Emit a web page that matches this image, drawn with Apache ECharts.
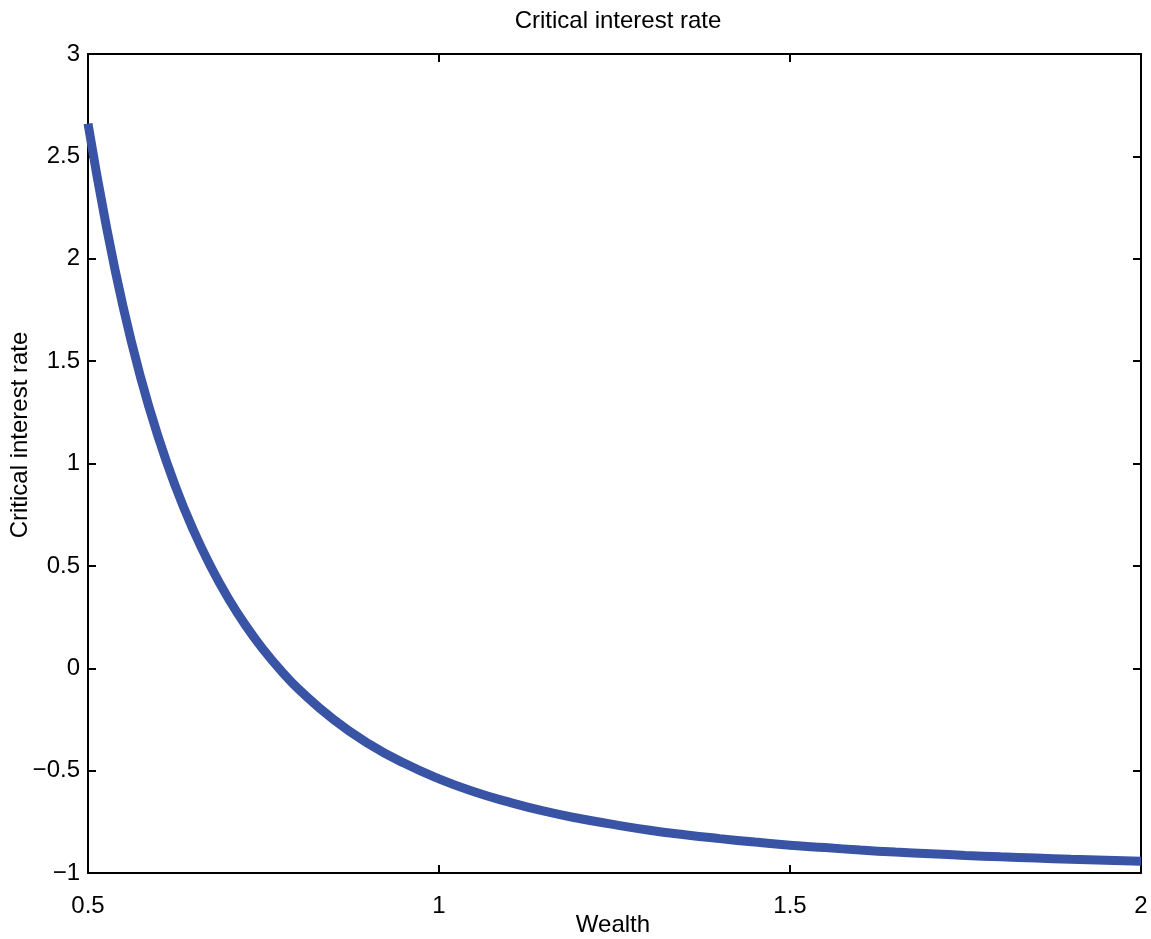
<!DOCTYPE html>
<html>
<head>
<meta charset="utf-8">
<script src="https://cdn.jsdelivr.net/npm/echarts@6/dist/echarts.min.js"></script>
<style>
html,body{margin:0;padding:0;background:#fff;}
#chart{width:1151px;height:939px;}
</style>
</head>
<body>
<div id="chart"></div>
<script>
const titleText = 'Critical interest rate';
const xName = 'Wealth';
const yName = 'Critical interest rate';
const wealth = [0.500,0.525,0.550,0.575,0.600,0.625,0.650,0.675,0.700,0.725,0.750,0.775,0.800,0.85,0.90,0.95,1.00,1.05,1.10,1.15,1.20,1.25,1.30,1.35,1.40,1.45,1.50,1.55,1.60,1.65,1.70,1.75,1.80,1.85,1.90,1.95,2.00];
const rate = [2.660,2.179,1.765,1.420,1.130,0.884,0.675,0.496,0.341,0.207,0.090,-0.012,-0.102,-0.251,-0.369,-0.463,-0.540,-0.603,-0.654,-0.698,-0.734,-0.764,-0.791,-0.813,-0.832,-0.849,-0.864,-0.876,-0.888,-0.898,-0.906,-0.914,-0.921,-0.927,-0.933,-0.938,-0.943];

const font = '"Liberation Sans", Arial, Helvetica, sans-serif';
const fmt = v => String(v).replace('-', '\u2212');
const chart = echarts.init(document.getElementById('chart'), null, {renderer:'canvas'});
const axisLine = {show:true, onZero:false, lineStyle:{color:'#000', width:2}};
const tick = {show:true, inside:true, length:8, lineStyle:{color:'#000', width:2}};
chart.setOption({
  animation:false,
  backgroundColor:'#fff',
  title:{text:titleText, left:613, top:4, textAlign:'center',
    textStyle:{fontFamily:font, fontSize:24, fontWeight:'normal', color:'#000'}},
  grid:{left:88, top:54, right:10, bottom:66, containLabel:false, outerBoundsMode:'none'},
  xAxis:[
    {type:'value', min:0.5, max:2, interval:0.5, position:'bottom',
     axisLine:axisLine, axisTick:tick, splitLine:{show:false},
     axisLabel:{fontFamily:font, fontSize:24, color:'#000', margin:21, formatter:fmt}},
    {type:'value', min:0.5, max:2, interval:0.5, position:'top',
     axisLine:axisLine, axisTick:tick, splitLine:{show:false}, axisLabel:{show:false}}
  ],
  yAxis:[
    {type:'value', min:-1, max:3, interval:0.5, position:'left',
     axisLine:axisLine, axisTick:tick, splitLine:{show:false},
     axisLabel:{fontFamily:font, fontSize:24, color:'#000', margin:8, formatter:fmt}},
    {type:'value', min:-1, max:3, interval:0.5, position:'right',
     axisLine:axisLine, axisTick:tick, splitLine:{show:false}, axisLabel:{show:false}}
  ],
  graphic:[
    {type:'text', x:20, y:435, rotation:Math.PI/2,
     style:{text:yName, font:'24px ' + font, fill:'#000', textAlign:'center', textVerticalAlign:'middle'}},
    {type:'text', x:613, y:925,
     style:{text:xName, font:'24px ' + font, fill:'#000', textAlign:'center', textVerticalAlign:'middle'}}
  ],
  series:[{type:'line', xAxisIndex:0, yAxisIndex:0, smooth:true, showSymbol:false,
    data: wealth.map((w,i)=>[w, rate[i]]),
    lineStyle:{color:'#3953A5', width:9, cap:'butt'}}]
});
</script>
</body>
</html>
